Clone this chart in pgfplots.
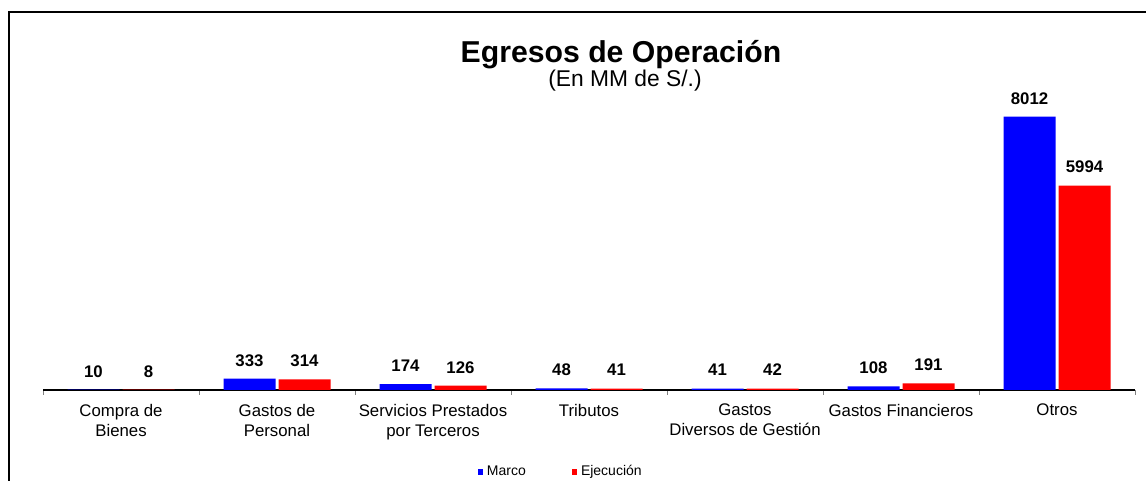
\documentclass[border=0pt]{standalone}
\usepackage{pgfplots}
\pgfplotsset{compat=1.18}
\usepackage{fontspec}
\setmainfont{Liberation Sans}
\definecolor{marco}{RGB}{0,0,255}
\definecolor{ejec}{RGB}{255,0,0}
\begin{document}
\begin{tikzpicture}
\draw[line width=1pt,black] (4.25pt,0pt) -- (4.25pt,234.5pt) -- (573pt,234.5pt);
\node[anchor=base,font=\fontsize{15.1}{17}\selectfont\bfseries] at (310.5pt,209.4pt) {Egresos de Operación};
\node[anchor=base,font=\fontsize{11.4}{13}\selectfont] at (312.5pt,197pt) {(En MM de S/.)};
\begin{axis}[
  at={(21.5pt,45.5pt)}, anchor=south west,
  scale only axis, width=546pt, height=153.5pt,
  xmin=0, xmax=7, ymin=0, ymax=9000,
  axis x line=bottom, x axis line style={-,black,line width=0.6pt},
  hide y axis,
  ybar=1.5pt, bar width=26pt,
  xtick={0.5,1.5,2.5,3.5,4.5,5.5,6.5},
  xticklabels={{Compra de\\Bienes},{Gastos de\\Personal},{Servicios Prestados\\por Terceros},{Tributos},{Gastos\\Diversos de Gestión},{Gastos Financieros},{Otros}},
  xticklabel style={align=center,font=\fontsize{8.4}{10.1}\selectfont,yshift=-3.5pt},
  major tick length=0pt,
  minor xtick={0,1,2,3,4,5,6,7}, minor tick length=2.5pt,
  tick align=outside, minor tick style={gray,line width=0.5pt},
  /pgf/number format/assume math mode=true,
  /pgf/number format/1000 sep={},
  nodes near coords,
  every node near coord/.append style={anchor=base,yshift=6.3pt,font=\fontsize{8.4}{10}\selectfont\bfseries,black},
  legend columns=2,
  legend style={at={(0.475,-0.267)},anchor=center,draw=none,fill=none,
    font=\fontsize{7}{8}\selectfont,
    /tikz/every even column/.append style={column sep=21pt},
    inner sep=0pt},
]
\addplot[fill=marco,draw=none,legend image code/.code={\fill[marco] (0pt,-1.3pt) rectangle (2.6pt,1.3pt);}] coordinates {(0.5,10) (1.5,333) (2.5,174) (3.5,48) (4.5,41) (5.5,108) (6.5,8012)};
\addplot[fill=ejec,draw=none,legend image code/.code={\fill[ejec] (0pt,-1.3pt) rectangle (2.6pt,1.3pt);}] coordinates {(0.5,8) (1.5,314) (2.5,126) (3.5,41) (4.5,42) (5.5,191) (6.5,5994)};
\legend{Marco,Ejecución}
\end{axis}
\pgfresetboundingbox
\useasboundingbox (0pt,0pt) rectangle (573pt,240.5pt);
\end{tikzpicture}
\end{document}
